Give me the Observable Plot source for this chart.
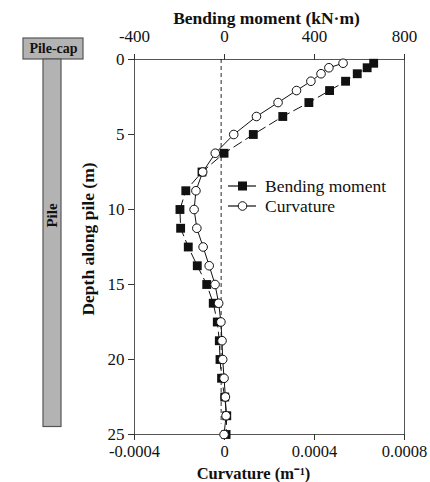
<!DOCTYPE html>
<html>
<head>
<meta charset="utf-8">
<script src="https://cdn.jsdelivr.net/npm/d3@7"></script>
<script src="https://cdn.jsdelivr.net/npm/@observablehq/plot@0.6"></script>
<style>
  html, body { margin: 0; padding: 0; background: #fff; }
  #wrap { position: relative; width: 430px; height: 482px; }
  #wrap > svg { position: absolute; left: 0; top: 0; }
  #wrap svg, #wrap svg text { font-family: 'Liberation Serif', 'Times New Roman', Times, serif !important; }
</style>
</head>
<body>
<div id="wrap"></div>
<script>
// Depth along pile (m) for the measured points
const depths = [0.25, 0.55, 0.95, 1.45, 2.07, 2.87, 3.8, 5.0, 6.25, 7.5, 8.75, 10,
                11.25, 12.5, 13.75, 15, 16.25, 17.5, 18.75, 20, 21.25, 22.5, 23.75, 25];
// Bending moment (kN·m)
const moment = [663, 634, 590, 538, 467, 375, 259, 128, -2, -100, -172, -198,
                -195, -161, -121, -79, -50, -32, -23, -20, -13, 1, 10, 7];
// Curvature (1/m)
const curvature = [0.000527, 0.000464, 0.000429, 0.000384, 0.000320, 0.000238, 0.000142, 0.000041,
                   -0.000041, -0.000097, -0.000127, -0.000135, -0.000123, -0.000095, -0.000068, -0.000042,
                   -0.000026, -0.000016, -0.000011, -0.000008, -0.000002, 0.000004, 0.000007, -0.000002];
const momentTicks = [-400, 0, 400, 800];
const curvatureTicks = [-0.0004, 0, 0.0004, 0.0008];
const curvatureTickLabels = ["-0.0004", "0", "0.0004", "0.0008"];
const depthTicks = [0, 5, 10, 15, 20, 25];
const referenceLine = {value: -15, from: 0, to: 24.3};
const seriesNames = ["Bending moment", "Curvature"];
const titles = {top: "Bending moment (kN·m)", bottom: "Curvature (m⁻¹)", left: "Depth along pile (m)"};
const pileParts = [
  {name: "Pile-cap", x1: 23, x2: 83, y1: -1.4, y2: 0},
  {name: "Pile", x1: 43, x2: 61, y1: 0, y2: 24.5}
];

const k = 1e6; // curvature plotted on the moment scale: 0.0004 1/m <-> 400 kN·m
const momentData = depths.map((d, i) => ({depth: d, v: moment[i]}));
const curvData = depths.map((d, i) => ({depth: d, v: curvature[i] * k}));

const font = "'Liberation Serif', 'Times New Roman', Times, serif";

const main = Plot.plot({
  width: 430, height: 482,
  marginLeft: 134, marginRight: 26, marginTop: 59, marginBottom: 48,
  style: {fontFamily: font, fontSize: "17px", background: "transparent", overflow: "visible"},
  x: {domain: [-400, 800]},
  y: {domain: [0, 25], reverse: true},
  marks: [
    Plot.frame({stroke: "#555", strokeWidth: 1}),
    Plot.axisX({anchor: "top", ticks: momentTicks, tickSize: 6, tickPadding: 12, tickFormat: d => String(d), label: null, stroke: "#333", fill: "#111", fontSize: 17}),
    Plot.axisX({anchor: "bottom", ticks: curvatureTicks.map(c => c * k), tickSize: 6, tickPadding: 5,
      tickFormat: v => curvatureTickLabels[curvatureTicks.findIndex(c => Math.abs(c * k - v) < 1e-6)], label: null, stroke: "#333", fill: "#111", fontSize: 16.5}),
    Plot.axisY({ticks: depthTicks, tickSize: 6, tickPadding: 4, tickFormat: d => String(d), label: null, stroke: "#333", fill: "#111", fontSize: 17}),
    Plot.text([titles.top], {frameAnchor: "top", dy: -48, dx: -3, fontWeight: "bold", fontSize: 17.5, fill: "#111"}),
    Plot.text([titles.bottom], {frameAnchor: "bottom", dy: 44, dx: -16, fontWeight: "bold", fontSize: 16.5, fill: "#111"}),
    Plot.text([titles.left], {frameAnchor: "left", textAnchor: "middle", dx: -46, dy: -8, rotate: -90, fontWeight: "bold", fontSize: 17.5, fill: "#111"}),
    Plot.ruleX([referenceLine], {x: "value", y1: "from", y2: "to", stroke: "#111", strokeWidth: 0.9, strokeDasharray: "4,3"}),
    Plot.line(momentData, {x: "v", y: "depth", stroke: "#111", strokeWidth: 1, strokeDasharray: "9,5"}),
    Plot.line(curvData, {x: "v", y: "depth", stroke: "#111", strokeWidth: 1}),
    Plot.dot(momentData, {x: "v", y: "depth", symbol: "square", r: 5, fill: "#111", stroke: "none"}),
    Plot.dot(curvData, {x: "v", y: "depth", symbol: "circle", r: 4.3, fill: "#fff", stroke: "#111", strokeWidth: 1})
  ]
});
document.getElementById("wrap").appendChild(main);

// Legend inside the plot area
const svg = d3.select(main);
const lg = svg.append("g").attr("text-anchor", "start");
seriesNames.forEach((name, i) => {
  const y = 186 + i * 20;
  const g = lg.append("g");
  g.append("line").attr("x1", 228).attr("x2", 256).attr("y1", y).attr("y2", y).attr("stroke", "#111").attr("stroke-width", 1.2);
  if (i === 0) g.append("rect").attr("x", 238).attr("y", y - 4.5).attr("width", 9).attr("height", 9).attr("fill", "#111");
  else g.append("circle").attr("cx", 242.5).attr("cy", y).attr("r", 4.3).attr("fill", "#fff").attr("stroke", "#111");
  g.append("text").attr("x", 265).attr("y", y + 5.5).attr("font-size", 17.5).attr("text-anchor", "start").attr("fill", "#111").text(name);
});

// Pile schematic
const pile = Plot.plot({
  width: 134, height: 482,
  marginLeft: 0, marginRight: 0, marginTop: 59, marginBottom: 48,
  style: {fontFamily: font, background: "transparent", overflow: "visible"},
  x: {domain: [0, 134], axis: null},
  y: {domain: [0, 25], reverse: true, axis: null},
  marks: [
    Plot.rect(pileParts, {x1: "x1", x2: "x2", y1: "y1", y2: "y2", fill: "#b3b3b3", stroke: "#555", strokeWidth: 1.2}),
    Plot.text(pileParts.slice(0, 1), {x: d => (d.x1 + d.x2) / 2, y: d => (d.y1 + d.y2) / 2, text: "name", fontWeight: "bold", fontSize: 14, fill: "#111"}),
    Plot.text(pileParts.slice(1), {x: d => (d.x1 + d.x2) / 2, y: 10.4, text: "name", rotate: -90, fontWeight: "bold", fontSize: 15, fill: "#111"})
  ]
});
document.getElementById("wrap").appendChild(pile);
</script>
</body>
</html>
